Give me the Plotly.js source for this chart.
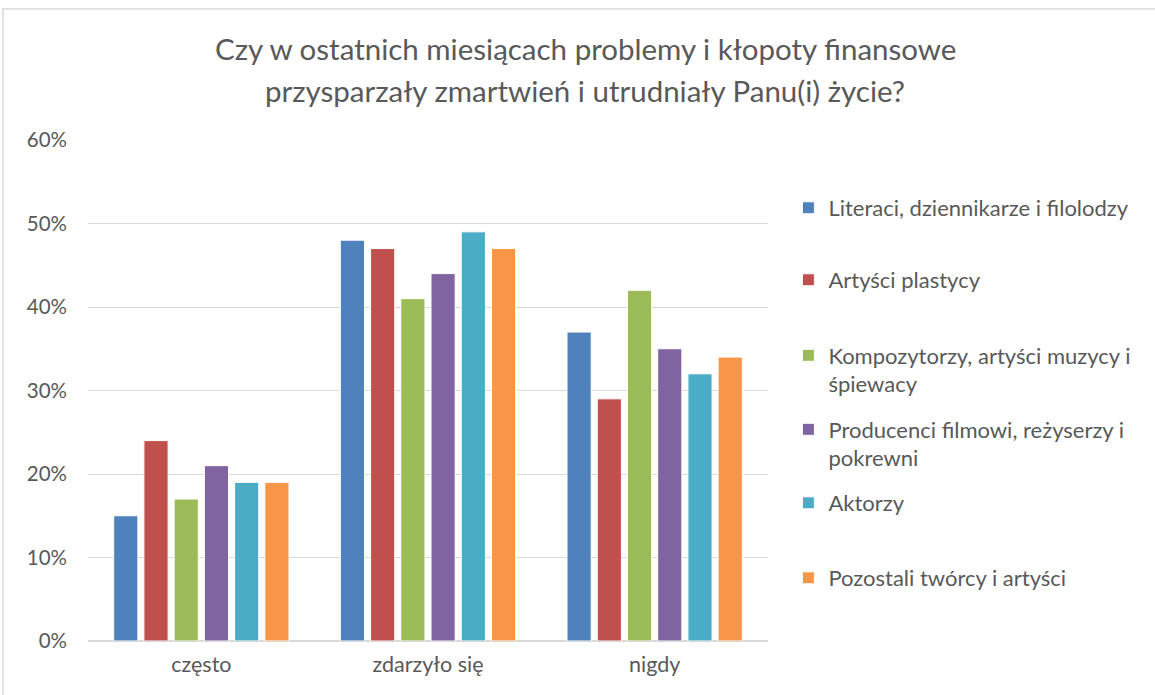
<!DOCTYPE html>
<html>
<head>
<meta charset="utf-8">
<script src="https://cdn.plot.ly/plotly-3.0.1.min.js"></script>
<style>
  html, body { margin: 0; padding: 0; background: #fff; }
  #chart { width: 1155px; height: 695px; }
</style>
</head>
<body>
<div id="chart"></div>
<script>
var categories = ["często", "zdarzyło się", "nigdy"];

var seriesNames = [
  "Literaci, dziennikarze i filolodzy",
  "Artyści plastycy",
  "Kompozytorzy, artyści muzycy i<br>śpiewacy",
  "Producenci filmowi, reżyserzy i<br>pokrewni",
  "Aktorzy",
  "Pozostali twórcy i artyści"
];

var titleLines = [
  "Czy w ostatnich miesiącach problemy i kłopoty finansowe",
  "przysparzały zmartwień i utrudniały Panu(i) życie?"
];

var literaci = [15, 48, 37];
var plastycy = [24, 47, 29];
var muzycy = [17, 41, 42];
var filmowcy = [21, 44, 35];
var aktorzy = [19, 49, 32];
var pozostali = [19, 47, 34];

var seriesValues = [literaci, plastycy, muzycy, filmowcy, aktorzy, pozostali];
var colors = ["#4F81BD", "#C0504D", "#9BBB59", "#8064A2", "#4BACC6", "#F79646"];

// legend centre positions (paper y), one legend per series so spacing matches
var legendY = [0.8643, 0.7206, 0.5409, 0.3932, 0.2754, 0.1257];
var titleY = [1.1836, 1.0998];

var font = "Lato, 'Open Sans', sans-serif";
var grey = "#595959";

var data = seriesValues.map(function(vals, i) {
  return {
    type: "bar",
    x: categories,
    y: vals,
    name: seriesNames[i],
    legend: i === 0 ? "legend" : "legend" + (i + 1),
    marker: {color: colors[i], line: {color: "#ffffff", width: 1}},
    hoverinfo: "y+name"
  };
});

var layout = {
  width: 1155,
  height: 695,
  paper_bgcolor: "#ffffff",
  plot_bgcolor: "#ffffff",
  margin: {l: 88, r: 387, t: 140, b: 54},
  font: {family: font, color: grey, size: 18},
  barmode: "group",
  bargap: 0.2,
  bargroupgap: 0.2,
  xaxis: {
    showgrid: false,
    showline: false,
    ticks: "",
    ticklabelstandoff: 8,
    tickfont: {size: 21.5, color: grey},
    fixedrange: true
  },
  yaxis: {
    range: [0, 60],
    dtick: 10,
    ticksuffix: "%",
    showgrid: true,
    gridcolor: "#d9d9d9",
    gridwidth: 1,
    zeroline: true,
    zerolinecolor: "#d9d9d9",
    zerolinewidth: 1.5,
    showline: false,
    ticks: "",
    ticklabelstandoff: 20,
    tickfont: {size: 20.5, color: grey},
    fixedrange: true
  },
  annotations: titleLines.map(function(t, i) {
    return {
      text: t,
      xref: "paper", yref: "paper",
      x: 0.7309, y: titleY[i],
      xanchor: "center", yanchor: "middle",
      showarrow: false,
      font: {family: font, size: 29.5, color: grey}
    };
  }),
  shapes: [{
    type: "rect",
    xref: "paper", yref: "paper",
    x0: -0.125, x1: 1.7,
    y0: -0.2, y1: 1.2615,
    line: {color: "#d9d9d9", width: 1.5},
    fillcolor: "rgba(0,0,0,0)",
    layer: "below"
  }],
  showlegend: true
};

legendY.forEach(function(y, i) {
  var key = i === 0 ? "legend" : "legend" + (i + 1);
  layout[key] = {
    x: 1.03,
    xanchor: "left",
    y: y,
    yanchor: "middle",
    valign: "top",
    bgcolor: "rgba(0,0,0,0)",
    font: {family: font, size: 22, color: grey},
    itemwidth: 30,
    itemclick: false,
    itemdoubleclick: false
  };
});

Plotly.newPlot("chart", data, layout, {displayModeBar: false, staticPlot: true});
</script>
</body>
</html>
